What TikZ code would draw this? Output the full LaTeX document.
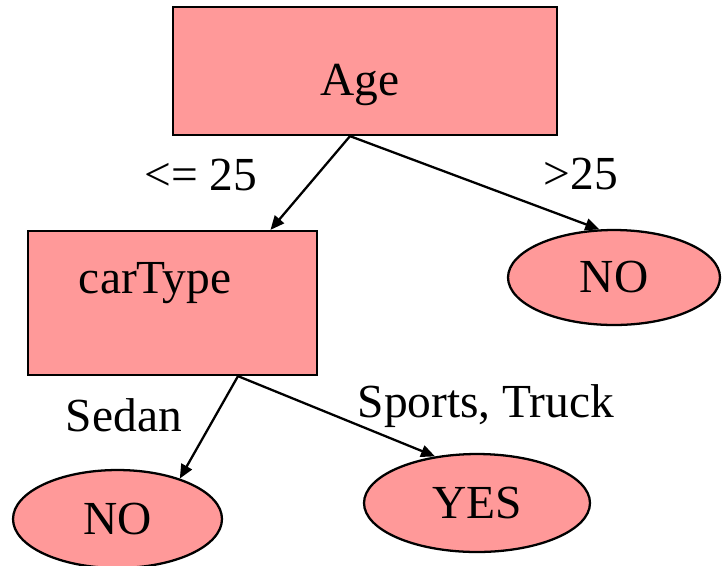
\documentclass[tikz,border=0pt]{standalone}
\usepackage{fontspec}
\setmainfont{Liberation Serif}
\usepackage{tikz}
\usetikzlibrary{shapes.geometric,arrows.meta,positioning}
\definecolor{nodepink}{RGB}{255,153,153}

\begin{document}
\begin{tikzpicture}[->, >={Triangle[length=0.28cm,width=0.24cm]}, x=0.02cm, y=-0.02cm,
    line width=1.3pt, font=\fontsize{27pt}{32pt}\selectfont,
    test/.style={draw, fill=nodepink, rectangle, inner sep=0pt},
    leaf/.style={draw, fill=nodepink, ellipse, inner sep=0pt}]

      \useasboundingbox (0,0) rectangle (722,565);

      % Tests
      \node[test, minimum width=7.68cm, minimum height=2.56cm,
            label={[xshift=-0.1cm, yshift=-0.27cm]center:Age}] (age) at (365,71) {};
      \node[test, minimum width=5.78cm, minimum height=2.88cm,
            label={[xshift=-0.35cm, yshift=0.39cm]center:carType}] (ctype) at (172.5,303) {};

      % Leaves
      \node[leaf, minimum width=4.24cm, minimum height=1.9cm] (noR) at (614,277.5) {NO};
      \node[leaf, minimum width=4.18cm, minimum height=1.96cm] (noL) at (117.5,519) {NO};
      \node[leaf, minimum width=4.52cm, minimum height=1.96cm] (yes) at (477,503) {YES};

      % Branches
      \path
        ([xshift=-0.3cm]age.south) edge node[-, xshift=-2.19cm, yshift=0.16cm] {<= 25} ([xshift=1.96cm]ctype.north)
        ([xshift=-0.3cm]age.south) edge node[-, xshift=2.12cm, yshift=0.18cm] {>25} (noR.107)

        ([xshift=1.31cm]ctype.south) edge node[-, xshift=-1.7cm, yshift=0.25cm] {Sedan} (noL.33)
        ([xshift=1.31cm]ctype.south) edge node[-, xshift=2.99cm, yshift=0.2cm] {Sports, Truck} (yes.132);

    \end{tikzpicture}
\end{document}
